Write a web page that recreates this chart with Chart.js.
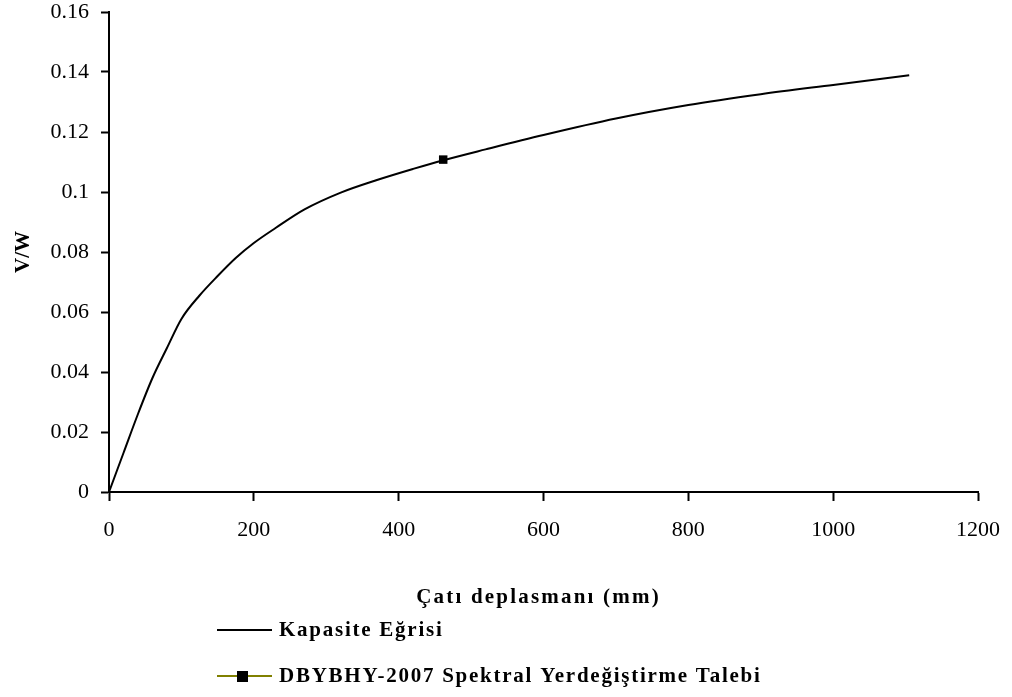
<!DOCTYPE html>
<html>
<head>
<meta charset="utf-8">
<script src="https://cdn.jsdelivr.net/npm/chart.js@4/dist/chart.umd.min.js"></script>
<style>
  html, body { margin: 0; padding: 0; background: #fff; }
  canvas { display: block; }
</style>
</head>
<body>
<canvas id="pushover" width="1012" height="697"></canvas>
<script>
// capacity curve (roof displacement mm, V/W)
const displacement = [0, 20, 40, 60, 80, 100, 125, 150, 175, 200, 230, 270, 320, 370, 420, 462, 520, 600, 700, 800, 900, 1000, 1105];
const vwRatio = [0, 0.013, 0.026, 0.038, 0.048, 0.0577, 0.0655, 0.072, 0.078, 0.083, 0.088, 0.0942, 0.0998, 0.104, 0.1077, 0.1106, 0.1142, 0.119, 0.1245, 0.129, 0.1326, 0.1357, 0.1389];

// spectral displacement demand point
const demandX = [461.5];
const demandY = [0.1108];

const seriesNames = ["Kapasite Eğrisi", "DBYBHY-2007 Spektral Yerdeğiştirme Talebi"];
const xTitle = "Çatı deplasmanı (mm)";
const yTitle = "V/W";

const serif = "'Liberation Serif', 'Times New Roman', serif";

// x title and legend drawn by hand, stacked under the axis
const legendPlugin = {
  id: "stackedLegend",
  afterDraw(chart) {
    const ctx = chart.ctx;
    const area = chart.chartArea;
    ctx.save();
    ctx.fillStyle = "#000";
    ctx.font = "bold 21px " + serif;
    ctx.textBaseline = "middle";
    ctx.textAlign = "center";
    ctx.letterSpacing = "2.2px";
    ctx.fillText(xTitle, (area.left + area.right) / 2 - 5, 598);

    const rows = [630, 676];
    ctx.textAlign = "left";
    ctx.letterSpacing = "1.75px";
    chart.data.datasets.forEach((ds, i) => {
      const y = rows[i];
      ctx.strokeStyle = ds.legendLine;
      ctx.lineWidth = 2;
      ctx.beginPath();
      ctx.moveTo(217, y);
      ctx.lineTo(272, y);
      ctx.stroke();
      if (ds.pointRadius > 0) {
        ctx.fillStyle = ds.pointBackgroundColor;
        ctx.fillRect(237, y - 5, 11, 11);
      }
      ctx.fillStyle = "#000";
      ctx.fillText(ds.label, 279, y + 1);
    });
    ctx.restore();
  }
};

new Chart(document.getElementById("pushover"), {
  type: "scatter",
  data: {
    datasets: [{
      label: seriesNames[0],
      data: displacement.map((x, i) => ({ x: x, y: vwRatio[i] })),
      showLine: true,
      borderColor: "#000",
      borderWidth: 2,
      pointRadius: 0,
      cubicInterpolationMode: "monotone",
      legendLine: "#000",
    }, {
      label: seriesNames[1],
      data: demandX.map((x, i) => ({ x: x, y: demandY[i] })),
      showLine: false,
      borderColor: "#808000",
      pointStyle: "rect",
      pointRadius: 6,
      pointBackgroundColor: "#000",
      pointBorderColor: "#000",
      pointBorderWidth: 0,
      legendLine: "#808000",
    }]
  },
  options: {
    responsive: false,
    animation: false,
    layout: { padding: { top: 12, right: 34, bottom: 0, left: 0 } },
    plugins: {
      legend: { display: false },
      tooltip: { enabled: false },
    },
    scales: {
      x: {
        type: "linear",
        min: 0,
        max: 1200,
        ticks: { stepSize: 200, color: "#000", padding: 16, font: { family: serif, size: 22 },
          callback: v => String(v) },
        grid: { drawOnChartArea: false, drawTicks: true, tickLength: 9, tickWidth: 2, color: "#000" },
        border: { display: true, color: "#000", width: 2 },
        afterFit(scale) { scale.height = 205; scale.paddingRight = 0; scale.paddingLeft = 0; },
      },
      y: {
        min: 0,
        max: 0.16,
        ticks: { stepSize: 0.02, color: "#000", padding: 12, font: { family: serif, size: 22 },
          callback: v => String(Math.round(v * 100) / 100) },
        grid: { drawOnChartArea: false, drawTicks: true, tickLength: 8, tickWidth: 2, color: "#000" },
        border: { display: true, color: "#000", width: 2 },
        title: { display: true, text: yTitle, color: "#000", font: { family: serif, size: 21, weight: "bold" }, padding: { top: 11, bottom: 0 } },
        afterFit(scale) { scale.width = 109; scale.paddingTop = 0; },
      }
    }
  },
  plugins: [legendPlugin]
});
</script>
</body>
</html>
